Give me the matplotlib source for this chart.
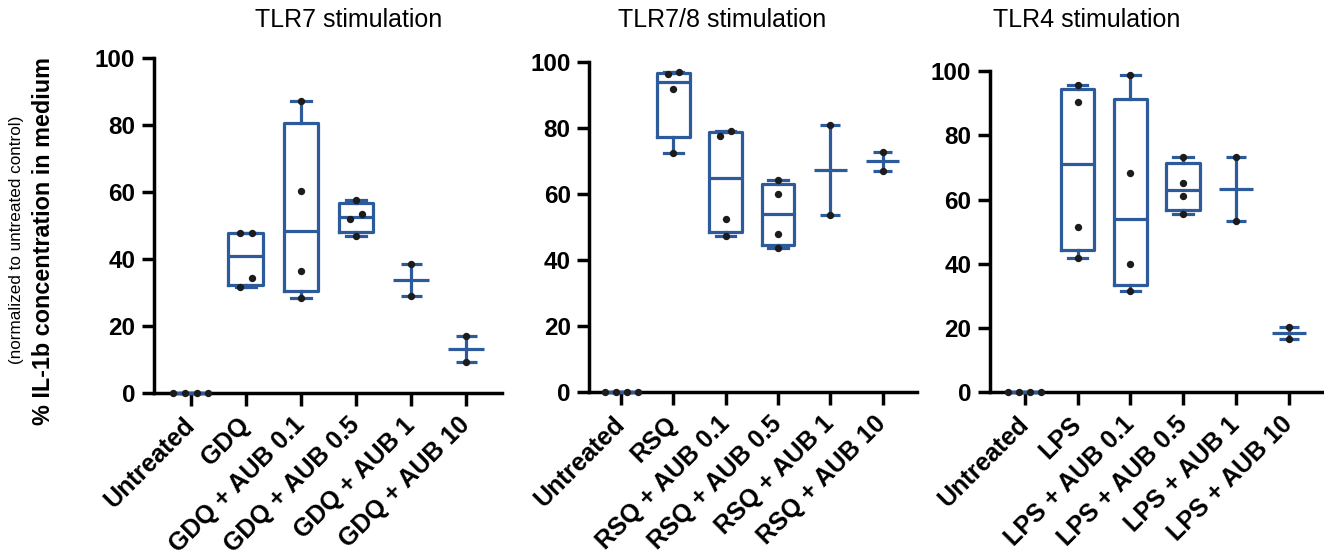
import numpy as np
import matplotlib
matplotlib.use("Agg")
import matplotlib.pyplot as plt
from matplotlib.transforms import ScaledTranslation

plt.rcParams["font.family"] = ["Liberation Sans", "DejaVu Sans"]

# values (% IL-1b, normalized to untreated control)
tlr7_labels = ["Untreated", "GDQ", "GDQ + AUB 0.1", "GDQ + AUB 0.5", "GDQ + AUB 1", "GDQ + AUB 10"]
tlr7_values = [[0, 0, 0, 0], [31.7, 34.3, 47.7, 47.9], [28.3, 36.3, 60.3, 87.3],
               [46.8, 51.8, 53.3, 57.7], [28.9, 38.5], [9.4, 16.9]]

tlr78_labels = ["Untreated", "RSQ", "RSQ + AUB 0.1", "RSQ + AUB 0.5", "RSQ + AUB 1", "RSQ + AUB 10"]
tlr78_values = [[0, 0, 0, 0], [72.2, 91.8, 96.2, 96.8], [47.3, 52.3, 77.5, 79.1],
                [43.4, 47.8, 59.9, 64.1], [53.6, 80.8], [67.0, 72.7]]

tlr4_labels = ["Untreated", "LPS", "LPS + AUB 0.1", "LPS + AUB 0.5", "LPS + AUB 1", "LPS + AUB 10"]
tlr4_values = [[0, 0, 0, 0], [41.9, 51.5, 90.3, 95.6], [31.4, 39.9, 68.2, 98.8],
               [55.5, 61.0, 65.0, 73.3], [53.4, 73.3], [16.6, 20.4]]

titles = ["TLR7 stimulation", "TLR7/8 stimulation", "TLR4 stimulation"]

BLUE = "#2c5a9a"
DOT = "#1c1c1c"
LW = 2.3


def spread(vals, step=0.21, tol=3.0):
    # put near-identical values side by side, like Prism's scatter
    v = np.asarray(vals, float)
    order = np.argsort(v, kind="stable")
    offs = np.zeros(len(v))
    cluster = [order[0]]
    for k in list(order[1:]) + [None]:
        if k is not None and v[k] - v[cluster[-1]] < tol:
            cluster.append(k)
            continue
        n = len(cluster)
        for j, idx in enumerate(cluster):
            offs[idx] = (j - (n - 1) / 2) * step
        if k is not None:
            cluster = [k]
    return offs


def draw_panel(ax, labels, groups, xlim):
    line = dict(color=BLUE, lw=LW)
    for i, vals in enumerate(groups):
        v = np.asarray(vals, float)
        if len(v) >= 3:
            q1, med, q3 = np.percentile(v, [25, 50, 75], method="weibull")
            st = [dict(med=med, q1=q1, q3=q3, whislo=v.min(), whishi=v.max(), fliers=[])]
            art = ax.bxp(st, positions=[i], widths=0.63, capwidths=0.37, showfliers=False,
                         boxprops=line, medianprops=line, whiskerprops=line, capprops=line,
                         zorder=3)
            for lst in art.values():
                for a in lst:
                    a.set_clip_on(False)
        else:
            ax.vlines(i, v.min(), v.max(), zorder=3, **line)
            ax.hlines([v.min(), v.max()], i - 0.19, i + 0.19, zorder=3, **line)
            ax.hlines(v.mean(), i - 0.32, i + 0.32, zorder=3, **line)
        ax.scatter(i + spread(v), v, s=28, color=DOT, zorder=5, clip_on=False, linewidths=0)

    ax.set_xlim(*xlim)
    ax.set_ylim(0, 100)
    ax.set_yticks(range(0, 101, 20))
    ax.set_yticklabels([str(t) for t in range(0, 101, 20)], fontsize=17.5, fontweight="bold")
    ax.set_xticks(range(len(labels)))
    ax.set_xticklabels(labels, fontsize=18, fontweight="bold", rotation=45,
                       ha="right", va="center", rotation_mode="anchor")
    shift = ScaledTranslation(2 / 72, 0, ax.figure.dpi_scale_trans)
    for lab in ax.get_xticklabels():
        lab.set_transform(lab.get_transform() + shift)
    ax.spines[["top", "right"]].set_visible(False)
    for s in ("left", "bottom"):
        ax.spines[s].set_linewidth(2.5)
    ax.tick_params(axis="y", length=8.5, width=2.5, pad=5)
    ax.tick_params(axis="x", length=9.5, width=2.5, pad=11)


fig = plt.figure(figsize=(13.24, 5.55), dpi=100)
ax1 = fig.add_axes([0.1163, 0.2919, 0.2628, 0.6036])
ax2 = fig.add_axes([0.4452, 0.2942, 0.2474, 0.5946])
ax3 = fig.add_axes([0.7477, 0.2932, 0.2523, 0.5789])

draw_panel(ax1, tlr7_labels, tlr7_values, (-0.667, 5.65))
draw_panel(ax2, tlr78_labels, tlr78_values, (-0.607, 5.66))
draw_panel(ax3, tlr4_labels, tlr4_values, (-0.66, 5.67))

for x, t in zip([349 / 1324, 722 / 1324, 1087 / 1324], titles):
    fig.text(x, 1 - 20 / 555, t, fontsize=18, ha="center", va="center")

fig.text(44 / 1324, 1 - 241 / 555, "% IL-1b concentration in medium", fontsize=16.8,
         fontweight="bold", rotation=90, ha="center", va="center")
fig.text(17 / 1324, 1 - 240 / 555, "(normalized to untreated control)", fontsize=12.3,
         rotation=90, ha="center", va="center")

fig.savefig("out.png", dpi=100)
